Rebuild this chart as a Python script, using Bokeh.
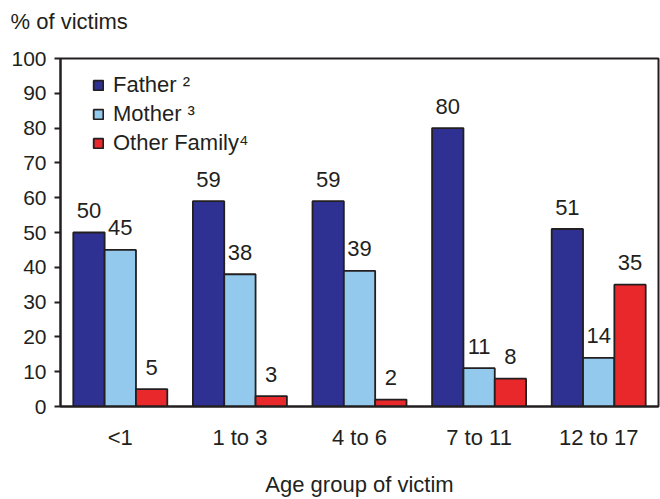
from bokeh.plotting import figure
from bokeh.models import FactorRange, Range1d, Legend, LegendItem, ColumnDataSource, Title
from bokeh.transform import dodge
from bokeh.core.properties import value
from bokeh.embed import file_html
from bokeh.resources import INLINE

# ---- data ----
age_groups = ["<1", "1 to 3", "4 to 6", "7 to 11", "12 to 17"]
father = [50, 59, 59, 80, 51]
mother = [45, 38, 39, 11, 14]
other_family = [5, 3, 2, 8, 35]
series_labels = ["Father \u00b2", "Mother \u00b3", "Other Family\u2074"]
y_ticks = [0, 10, 20, 30, 40, 50, 60, 70, 80, 90, 100]
y_title = "% of victims"
x_title = "Age group of victim"

FONT = "Liberation Sans"
INK = "#231f20"
colors = ["#2e3192", "#92c9ec", "#e8282b"]
FS = "22px"

src = ColumnDataSource(dict(
    age=age_groups,
    father=father, mother=mother, other=other_family,
    father_lbl=[str(v) for v in father],
    mother_lbl=[str(v) for v in mother],
    other_lbl=[str(v) for v in other_family],
))

p = figure(width=660, height=499, output_backend="svg", toolbar_location=None,
           x_range=FactorRange(factors=age_groups, range_padding=0),
           y_range=Range1d(0, 100),
           min_border_left=60, min_border_right=2, min_border_top=58, min_border_bottom=93)
p.title.visible = False

bw = 0.262
offsets = [-bw, 0.0, bw]
fields = ["father", "mother", "other"]
renderers = []
for f, off, c in zip(fields, offsets, colors):
    r = p.vbar(x=dodge("age", off, range=p.x_range), top=f, width=bw, source=src,
               fill_color=c, line_color=INK, line_width=1.8)
    renderers.append(r)
    p.text(x=dodge("age", off, range=p.x_range), y=f, text=f + "_lbl", source=src,
           text_align="center", text_baseline="alphabetic", y_offset=-22,
           text_font=value(FONT), text_font_size=FS, text_color=INK)

legend = Legend(items=[LegendItem(label=l, renderers=[r]) for l, r in zip(series_labels, renderers)],
                location=(32, 250), border_line_color=None, background_fill_alpha=0,
                glyph_width=12, glyph_height=12, label_standoff=9, spacing=3,
                padding=0, margin=0, label_text_font=FONT, label_text_font_size=FS,
                label_text_color=INK)
p.add_layout(legend)

# spacer between frame and the y-axis title (which sits horizontally above the frame)
p.add_layout(Title(text=" ", text_font_size="2px", standoff=16), "above")
p.add_layout(Title(text=y_title, align="left", vertical_align="bottom", offset=-50,
                   standoff=10, text_font=FONT, text_font_size=FS,
                   text_font_style="normal", text_color=INK), "above")

p.xgrid.visible = False
p.ygrid.visible = False
p.outline_line_color = INK
p.outline_line_width = 2

p.yaxis.ticker = y_ticks
p.yaxis.major_tick_out = 6
p.yaxis.major_tick_in = 0
p.yaxis.minor_tick_line_color = None
p.yaxis.major_label_standoff = 8

p.xaxis.major_label_standoff = 12
p.xaxis.axis_label = x_title
p.xaxis.axis_label_standoff = 19
p.xaxis.axis_label_text_font_style = "normal"

for ax in (p.xaxis[0], p.yaxis[0]):
    ax.axis_line_color = INK
    ax.axis_line_width = 2
    ax.major_tick_line_width = 2
    ax.major_label_text_font = FONT
    ax.major_label_text_color = INK
    ax.axis_label_text_font = FONT
    ax.axis_label_text_font_size = FS
    ax.axis_label_text_color = INK

p.yaxis.major_tick_line_color = INK
p.yaxis.major_label_text_font_size = "21px"
p.xaxis.major_tick_line_color = None
p.xaxis.major_label_text_font_size = FS

open("out.html", "w").write(file_html(p, INLINE))
